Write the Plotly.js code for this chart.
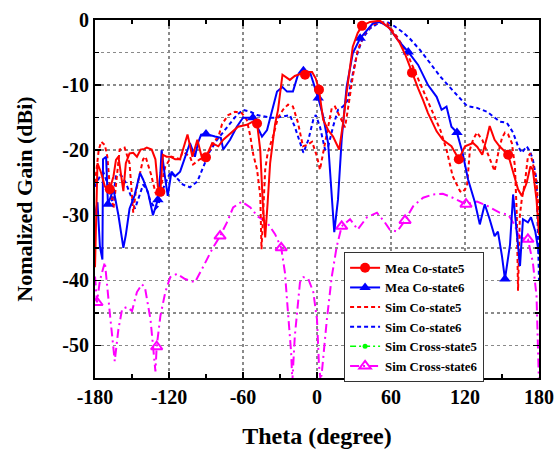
<!DOCTYPE html>
<html>
<head>
<meta charset="utf-8">
<script src="https://cdn.plot.ly/plotly-3.0.1.min.js"></script>
<style>html,body{margin:0;padding:0;background:#fff;}#chart{width:560px;height:455px;}</style>
</head>
<body>
<div id="chart"></div>
<script>
// ---- Data (theta in degrees, normalized gain in dBi) ----
const meaCo5X = [-180,-178,-175,-172,-168,-165,-163,-161,-157,-155,-152,-149,-146,-143,-140,-138,-134,-131,-129,-127,-125,-122,-119,-115,-111,-108,-105,-101,-97,-93,-90,-85,-80,-76,-69,-64,-57,-52,-48.6,-46,-44,-42,-40,-38,-34,-31.6,-28,-25,-22,-18,-15.4,-12,-9.7,-7,-4,-1,1.6,5,9,13,18,21,24,29,33,36.5,43,51,59,67,72,77,82,86,90,97,102,109,115,120,126.5,130,134,138,140,144,148,155,159,163,166,170,173,175,178,180];
const meaCo5Y = [-38,-22,-23.5,-25.6,-26,-24,-21.5,-21,-26.3,-22,-20.5,-20.4,-21,-19.9,-19.8,-19.6,-19.9,-21.4,-25.6,-26.4,-20.7,-21,-21,-21.4,-21.4,-19.5,-17.6,-21,-18.4,-21.4,-21.1,-18.9,-19.4,-18.4,-17.3,-16.4,-16.1,-15.6,-15.9,-20,-28,-33.4,-28,-22,-16,-13.8,-8.4,-8.8,-9.2,-8.6,-8.4,-8.2,-8.4,-8,-8,-9,-10.7,-15.3,-16.9,-17.9,-19.9,-16,-11.2,-4.1,-2,-0.9,-0.3,-0.1,-1.3,-3.5,-5.5,-8.1,-10.5,-12.3,-14.3,-17.1,-18.4,-19.4,-21.4,-19.4,-18.9,-19.5,-20.7,-17.9,-16.3,-18.4,-19.4,-20.7,-23.4,-26,-27,-25,-22.5,-23,-27.6,-33];
const meaCo5MarkX = [-168,-127,-90,-48.6,-9.7,1.6,36.5,77,115,155];

const meaCo6X = [-180,-178,-176,-174,-173.5,-171,-169.5,-165,-161,-157,-155,-152,-148,-143.5,-141,-137,-133,-129,-127,-126,-123,-121,-118,-115,-111,-107,-103,-99,-96.5,-94,-90,-82.7,-78,-76,-70.5,-65,-60,-52,-44.6,-40.5,-36.5,-32.4,-28,-24.3,-19.5,-15.4,-11,-5.7,1,5,9,12,14,17,20,24,29,35,40.5,45.4,51,57.6,65.7,74,82,90,97,101,105,109,113.5,118,122.5,128,132,136,140,144,146.7,150,152.4,156.5,159,162,164.6,167,171,173.5,177,179,180];
const meaCo6Y = [-30,-28,-34.8,-36.8,-21.4,-21,-28.3,-26,-30,-35,-33,-29,-27,-23.5,-24.5,-26.5,-30,-27.6,-23.5,-20,-24.5,-27,-23.3,-24,-23.3,-21,-18.9,-21,-18.9,-17.6,-17.5,-17.9,-18.1,-19.9,-18.4,-16.4,-15,-15,-17.9,-16.9,-13.8,-11,-10.3,-11,-11,-8.4,-7.8,-8,-12,-14.8,-18.9,-27.6,-32.6,-27.6,-18.4,-10.3,-5.1,-2.8,-1.5,-0.5,-0.3,-1,-3.1,-4.9,-6.9,-10,-11.8,-13.8,-13.3,-16.4,-17.3,-20.4,-24.5,-28,-31.4,-28.3,-30.6,-33.2,-32.5,-36.3,-39.8,-34.5,-26.8,-33.2,-37.8,-30.6,-31.1,-30.3,-32.5,-34.8,-36];
const meaCo6MarkX = [-169.5,-129,-90,-52,-11,1,35,74,113.5,152.4];

const simCo5X = [-180,-177,-175,-172,-170,-168,-165,-163,-160,-156,-152,-150,-149,-147,-143.5,-141,-139,-134.6,-131,-129,-126.5,-123,-118,-114,-111,-109,-103,-100.5,-95,-91,-87,-83,-80,-77,-72,-66.5,-61,-57,-54,-52,-48.6,-46,-45,-43,-42,-40,-35.7,-31.6,-27.6,-23.5,-19.5,-15.4,-11.4,-8,-4,0,2.4,5,8,12,14.6,18.6,22.7,25,29,33,39,44.6,51,56.8,65,73,79.5,86,93,100,105,110,116,118,121.6,124,126.5,129.7,134,138,142,144,147,150,152.4,155,158,160.5,162,163,164.5,166,168.6,171,173,175,178,180];
const simCo5Y = [-25,-20,-18.7,-19.2,-21,-25.6,-29,-25,-19.9,-19.6,-22,-27,-29.6,-26.5,-23.4,-21.4,-21,-23.7,-26.5,-27.3,-25.6,-22.5,-21,-21.2,-21.4,-20.2,-21,-22.2,-21.4,-21,-20,-18.5,-18,-16,-14.6,-14.1,-14.3,-15.3,-17.9,-20.4,-23,-27,-35.2,-27,-23,-20.4,-17.9,-15,-13.8,-13,-13.3,-15.8,-19.4,-19.2,-18.7,-21,-23,-20.4,-17.3,-13.5,-13.3,-14.8,-16.5,-13.8,-8.7,-4.6,-2,-0.8,-0.3,-0.5,-2.6,-5.1,-7.9,-10.7,-13.8,-16.9,-19.9,-24,-26.3,-26.5,-25.6,-19.9,-18.4,-17.3,-18.4,-20.4,-22.5,-23.2,-20.4,-18.1,-17.3,-17.6,-18.9,-22.5,-30,-41.6,-30,-27.6,-25,-21,-20.5,-22,-25,-30];

const simCo6X = [-180,-176,-173,-169,-166,-163,-159,-155,-151,-147.6,-144,-141,-138,-135,-131,-129,-125,-119,-113.5,-108.6,-103,-97,-92,-87,-81,-76,-70.5,-65,-60,-54,-48.6,-44,-38,-32.4,-27.6,-22,-18,-13.8,-11,-7,-3,-1,2.4,6.5,9,13,17,21,25,28,32,37,43,49.5,56.8,61.6,69,75,83.5,91.6,100,108,116,121.6,129.7,138,142.7,148,154,159,163,166,170,172.7,175,178,179,180];
const simCo6Y = [-25.6,-24,-23.5,-25.6,-28,-24,-23.8,-25,-27,-29,-27,-25.3,-26,-27.9,-29,-28.6,-26,-23.4,-24.3,-25.3,-25.7,-24.8,-22.5,-20.2,-18.4,-17.2,-15.8,-14.6,-13.8,-14.1,-14.6,-14.8,-15,-15,-14.8,-14.6,-16.4,-18.9,-20.4,-18.4,-15.3,-14.6,-16.4,-19.9,-19.5,-16.4,-13.8,-13.3,-12.3,-9.2,-5.6,-2.8,-1.3,-0.5,-0.3,-0.8,-1.8,-2.8,-4.6,-6.6,-8.7,-10.4,-12,-13.2,-13.5,-14.1,-14.8,-15.6,-15.8,-17.3,-19.4,-20.4,-19.4,-20.2,-21.4,-24.5,-32,-40];

const simCross5X = [];
const simCross5Y = [];

const simCross6X = [-180,-178.4,-176,-172,-168,-164,-161,-158,-154,-150,-146,-142,-139.5,-135,-131,-130,-127,-123,-119,-113.5,-107,-99,-92,-85,-78.6,-73,-68,-61,-54,-48,-40.5,-34,-29,-26,-23.5,-21,-20,-18,-13.8,-11,-7,-3,0,1.6,3,4,8,12,16,20,26.8,33,40.5,48.6,55,59,65,71.4,78,86,94,102,110,120.8,129.7,138.6,148,155,159,164.6,171,175,178,179.5,180];
const simCross6Y = [-39.4,-43.4,-40,-37.2,-45,-52.4,-47.5,-44.4,-44.1,-44.7,-41.8,-40.6,-41.1,-46,-54,-50.2,-45.5,-41.8,-39.5,-39,-39.8,-40.3,-37.8,-35.2,-33.2,-31.1,-28.8,-27.9,-28.8,-30.2,-31.1,-32.9,-35,-38.8,-45,-51,-55.5,-48.6,-40.3,-39.5,-39.8,-41.8,-46,-53,-55.5,-54,-46,-39.4,-34.8,-31.7,-30.6,-32.2,-30.3,-29.6,-31.1,-32.2,-32.5,-30.8,-28.6,-27.3,-26.8,-26.7,-27.3,-28.3,-27.9,-28.6,-29.6,-29.9,-31.1,-33.4,-33.7,-37.2,-42.4,-54.7,-56];
const simCross6MarkX = [-178.4,-130,-78.6,-29,20,71.4,120.8,171];

const seriesNames = ["Mea Co-state5","Mea Co-state6","Sim Co-state5","Sim Co-state6","Sim Cross-state5","Sim Cross-state6"];
const xTickVals = [-180,-120,-60,0,60,120,180];
const yTickVals = [0,-10,-20,-30,-40,-50];

// ---- Styles ----
const RED = '#ff0000', BLUE = '#0000ff', GREEN = '#00ff00', MAG = '#ff00ff';
const styles = [
  {color: RED, dash: 'solid', width: 2, symbol: 'circle', msize: 10},
  {color: BLUE, dash: 'solid', width: 2, symbol: 'triangle-up', msize: 10},
  {color: RED, dash: '4px,3px', width: 2},
  {color: BLUE, dash: '4px,3px', width: 2},
  {color: GREEN, dash: '6px,3px,2px,3px', width: 1.5, symbol: 'circle', msize: 5},
  {color: MAG, dash: '9px,4px,2px,4px', width: 2, symbol: 'triangle-up-open', msize: 10}
];

function pick(xs, ys, marks) { return marks.map(v => ys[xs.indexOf(v)]); }
function markerOf(s) {
  return {symbol: s.symbol, size: s.msize, color: s.color,
          line: {color: s.color, width: s.symbol.indexOf('open') >= 0 ? 2 : 0}};
}

const traces = [];
// legend-only entries
seriesNames.forEach((n, i) => {
  const s = styles[i];
  const t = {
    x: [null], y: [null], name: n, type: 'scatter',
    mode: s.symbol ? 'lines+markers' : 'lines',
    line: {color: s.color, dash: s.dash, width: s.width},
    showlegend: true
  };
  if (s.symbol) t.marker = markerOf(s);
  traces.push(t);
});

function lineTrace(xs, ys, i) {
  const s = styles[i];
  return {x: xs, y: ys, type: 'scatter', mode: 'lines', showlegend: false,
          line: {color: s.color, dash: s.dash, width: s.width}};
}
function markTrace(xs, ys, marks, i) {
  const s = styles[i];
  return {x: marks, y: pick(xs, ys, marks), type: 'scatter', mode: 'markers', showlegend: false,
          marker: markerOf(s)};
}

traces.push(lineTrace(simCross5X, simCross5Y, 4));
traces.push(lineTrace(simCross6X, simCross6Y, 5));
traces.push(markTrace(simCross6X, simCross6Y, simCross6MarkX, 5));
traces.push(lineTrace(simCo6X, simCo6Y, 3));
traces.push(lineTrace(simCo5X, simCo5Y, 2));
traces.push(lineTrace(meaCo6X, meaCo6Y, 1));
traces.push(markTrace(meaCo6X, meaCo6Y, meaCo6MarkX, 1));
traces.push(lineTrace(meaCo5X, meaCo5Y, 0));
traces.push(markTrace(meaCo5X, meaCo5Y, meaCo5MarkX, 0));

const FONT = 'Liberation Serif, Times New Roman, serif';
const layout = {
  width: 560, height: 455,
  margin: {l: 95, r: 21, t: 20, b: 77},
  paper_bgcolor: '#ffffff', plot_bgcolor: '#ffffff',
  font: {family: FONT, color: '#000', size: 20, weight: 'bold'},
  showlegend: true,
  legend: {
    x: 0.561, y: 0.352, xanchor: 'left', yanchor: 'top',
    bgcolor: '#ffffff', bordercolor: '#333', borderwidth: 1,
    font: {family: FONT, size: 12.8, color: '#000', weight: 'bold'},
    itemwidth: 30, tracegroupgap: 0
  },
  xaxis: {
    range: [-180, 180], tickmode: 'array', tickvals: xTickVals, ticktext: xTickVals.map(String),
    showline: true, linecolor: '#000', linewidth: 2, mirror: 'ticks',
    ticks: 'inside', ticklen: 6, tickwidth: 1.5, tickcolor: '#000',
    showgrid: true, gridcolor: '#8a8a8a', griddash: 'dot', gridwidth: 1.5,
    zeroline: false,
    tickfont: {family: FONT, size: 20, color: '#000', weight: 'bold'},
    minor: {dtick: 30, tick0: 0, ticks: 'inside', ticklen: 4, tickcolor: '#000', showgrid: false},
    title: {text: 'Theta (degree)', font: {family: FONT, size: 24, color: '#000', weight: 'bold'}, standoff: 20}
  },
  yaxis: {
    range: [-55, 0], tickmode: 'array', tickvals: yTickVals, ticktext: yTickVals.map(String),
    showline: true, linecolor: '#000', linewidth: 2, mirror: 'ticks',
    ticks: 'inside', ticklen: 6, tickwidth: 1.5, tickcolor: '#000',
    showgrid: true, gridcolor: '#8a8a8a', griddash: 'dot', gridwidth: 1.5,
    zeroline: false,
    tickfont: {family: FONT, size: 20, color: '#000', weight: 'bold'},
    minor: {dtick: 5, tick0: 0, ticks: 'inside', ticklen: 4, tickcolor: '#000', showgrid: true, gridcolor: '#8a8a8a', griddash: 'dot', gridwidth: 1.5},
    title: {text: 'Nomalized Gain (dBi)', font: {family: FONT, size: 22, color: '#000', weight: 'bold'}, standoff: 24}
  }
};

Plotly.newPlot('chart', traces, layout, {displayModeBar: false, staticPlot: true});
</script>
</body>
</html>
